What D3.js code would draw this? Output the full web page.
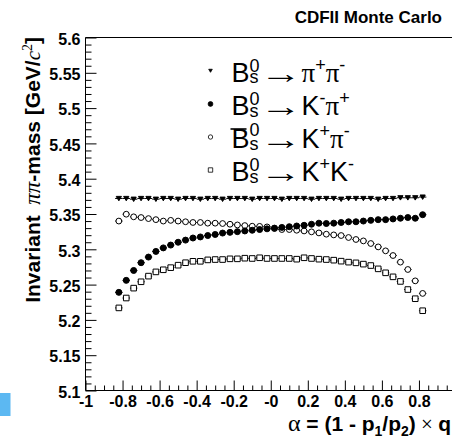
<!DOCTYPE html>
<html>
<head>
<meta charset="utf-8">
<script src="https://cdn.jsdelivr.net/npm/d3@7"></script>
<style>
  body { margin: 0; background: #fff; }
  svg { display: block; }
  text { fill: #000; }
</style>
</head>
<body>
<svg id="chart" width="452" height="440"></svg>
<script>
// Bin centres of alpha = (1 - p1/p2) x q
const alphaBins = [-0.82, -0.78, -0.74, -0.70, -0.66, -0.62, -0.58, -0.54, -0.50, -0.46,
                   -0.42, -0.38, -0.34, -0.30, -0.26, -0.22, -0.18, -0.14, -0.10, -0.06,
                   -0.02, 0.02, 0.06, 0.10, 0.14, 0.18, 0.22, 0.26, 0.30, 0.34,
                   0.38, 0.42, 0.46, 0.50, 0.54, 0.58, 0.62, 0.66, 0.70, 0.74,
                   0.78, 0.82];

// Mean pi-pi invariant mass [GeV/c^2] per bin, one array per decay mode
const massPiPi = [5.372, 5.372, 5.371, 5.372, 5.372, 5.371, 5.372, 5.372, 5.371, 5.372,
                  5.372, 5.371, 5.372, 5.372, 5.371, 5.372, 5.372, 5.372, 5.371, 5.372,
                  5.372, 5.372, 5.371, 5.372, 5.372, 5.372, 5.371, 5.372, 5.372, 5.372,
                  5.371, 5.372, 5.372, 5.372, 5.372, 5.371, 5.372, 5.372, 5.373, 5.373,
                  5.373, 5.374];
const massKPi    = [5.239, 5.256, 5.270, 5.281, 5.289, 5.297, 5.302, 5.306, 5.310, 5.313,
                    5.316, 5.3175, 5.3195, 5.321, 5.323, 5.324, 5.325, 5.326, 5.327, 5.328,
                    5.329, 5.330, 5.331, 5.332, 5.333, 5.334, 5.3355, 5.337, 5.3365, 5.337,
                    5.338, 5.339, 5.339, 5.340, 5.341, 5.342, 5.342, 5.343, 5.344, 5.345,
                    5.344, 5.349];
const massKPiBar = [5.340, 5.3497, 5.346, 5.345, 5.3435, 5.342, 5.340, 5.341, 5.340, 5.339,
                    5.338, 5.338, 5.337, 5.337, 5.3365, 5.3355, 5.3345, 5.3336, 5.3327, 5.3325,
                    5.3317, 5.3294, 5.328, 5.328, 5.327, 5.326, 5.3247, 5.3232, 5.3214, 5.3204,
                    5.3195, 5.3167, 5.3139, 5.3119, 5.3082, 5.3034, 5.2978, 5.2912, 5.2818, 5.2714,
                    5.2553, 5.2375];
const massKK     = [5.217, 5.231, 5.245, 5.254, 5.262, 5.268, 5.271, 5.274, 5.2775, 5.281,
                    5.283, 5.283, 5.285, 5.2855, 5.2855, 5.2865, 5.2865, 5.2874, 5.287, 5.288,
                    5.287, 5.287, 5.287, 5.287, 5.286, 5.288, 5.287, 5.286, 5.2855, 5.2846,
                    5.2832, 5.2818, 5.2808, 5.279, 5.277, 5.2723, 5.2667, 5.261, 5.2545, 5.243,
                    5.230, 5.213];

const binHalfWidth = 0.02;

// Axis ticks and labels
const yMajorTicks = [5.1, 5.15, 5.2, 5.25, 5.3, 5.35, 5.4, 5.45, 5.5, 5.55, 5.6];
const yTickLabels = ["5.1", "5.15", "5.2", "5.25", "5.3", "5.35", "5.4", "5.45", "5.5", "5.55", "5.6"];
const xMajorTicks = [-1, -0.8, -0.6, -0.4, -0.2, 0, 0.2, 0.4, 0.6, 0.8];
const xTickLabels = ["-1", "-0.8", "-0.6", "-0.4", "-0.2", "-0", "0.2", "0.4", "0.6", "0.8"];

const SANS = "'Liberation Sans', Arial, Helvetica, sans-serif";
const SERIF = "'Liberation Serif', 'Times New Roman', serif";

const svg = d3.select("#chart");

const x = d3.scaleLinear().domain([-1, 1]).range([85.5, 456]);
const y = d3.scaleLinear().domain([5.1, 5.6]).range([390.5, 37.5]);

// ---- frame ----
svg.append("path")
  .attr("d", `M456,${y(5.6)}H${x(-1)}V${y(5.1)}H456`)
  .attr("fill", "none").attr("stroke", "#000").attr("stroke-width", 1);

// ---- y axis (ticks point into the frame) ----
const yMinor = d3.range(5.1, 5.6001, 0.01).map(v => +v.toFixed(2))
  .filter(v => !yMajorTicks.some(t => Math.abs(t - v) < 1e-6));

const yAxisG = svg.append("g").attr("transform", `translate(${x(-1)},0)`)
  .call(d3.axisLeft(y).tickValues(yMajorTicks).tickSize(-11).tickPadding(5)
        .tickFormat((d, i) => yTickLabels[i]));
yAxisG.select(".domain").remove();
yAxisG.selectAll("text").attr("font-family", SANS).attr("font-weight", "bold")
  .attr("font-size", 16).attr("dy", "0.42em");
yAxisG.selectAll("line").attr("stroke", "#000");

const yMinorG = svg.append("g").attr("transform", `translate(${x(-1)},0)`)
  .call(d3.axisLeft(y).tickValues(yMinor).tickSize(-6).tickFormat(""));
yMinorG.select(".domain").remove();
yMinorG.selectAll("line").attr("stroke", "#000");

// ---- x axis ----
const xMinor = d3.range(-1, 1.0001, 0.05).map(v => +v.toFixed(2))
  .filter(v => !xMajorTicks.some(t => Math.abs(t - v) < 1e-6) && Math.abs(v - 1) > 1e-6);

const xAxisG = svg.append("g").attr("transform", `translate(0,${y(5.1)})`)
  .call(d3.axisBottom(x).tickValues(xMajorTicks).tickSize(-10).tickPadding(5)
        .tickFormat((d, i) => xTickLabels[i]));
xAxisG.select(".domain").remove();
xAxisG.selectAll("text").attr("font-family", SANS).attr("font-weight", "bold")
  .attr("font-size", 16).attr("dy", "0.72em");
xAxisG.selectAll("line").attr("stroke", "#000");

const xMinorG = svg.append("g").attr("transform", `translate(0,${y(5.1)})`)
  .call(d3.axisBottom(x).tickValues(xMinor).tickSize(-5).tickFormat(""));
xMinorG.select(".domain").remove();
xMinorG.selectAll("line").attr("stroke", "#000");

// ---- markers ----
function markerPath(kind, r) {
  if (kind === "triangle") {
    return `M${-r},${-r * 0.8}L${r},${-r * 0.8}L0,${r * 0.9}Z`;
  }
  if (kind === "square") {
    return `M${-r},${-r}H${r}V${r}H${-r}Z`;
  }
  return d3.symbol(d3.symbolCircle, Math.PI * r * r)();
}

const series = [
  { values: massPiPi,   kind: "triangle", filled: true,  r: 2.6 },
  { values: massKPi,    kind: "circle",   filled: true,  r: 3.0 },
  { values: massKPiBar, kind: "circle",   filled: false, r: 2.9 },
  { values: massKK,     kind: "square",   filled: false, r: 2.8 }
];

const plot = svg.append("g");
series.forEach(s => {
  const pts = alphaBins.map((a, i) => ({ a, v: s.values[i] }));
  const g = plot.append("g");
  // horizontal bin-width bars, stopping at the edge of the marker
  pts.forEach(p => {
    const cx = x(p.a), cy = y(p.v);
    const x0 = x(p.a - binHalfWidth), x1 = x(p.a + binHalfWidth);
    const gap = s.filled ? 0 : s.r;
    g.append("line").attr("x1", x0).attr("x2", cx - gap).attr("y1", cy).attr("y2", cy)
      .attr("stroke", "#000").attr("stroke-width", 1);
    g.append("line").attr("x1", cx + gap).attr("x2", x1).attr("y1", cy).attr("y2", cy)
      .attr("stroke", "#000").attr("stroke-width", 1);
  });
  g.selectAll("path.m").data(pts).join("path").attr("class", "m")
    .attr("transform", p => `translate(${x(p.a)},${y(p.v)})`)
    .attr("d", markerPath(s.kind, s.r))
    .attr("fill", s.filled ? "#000" : "none")
    .attr("stroke", "#000").attr("stroke-width", 1);
});

// ---- legend ----
const legend = svg.append("g");
const legendX = 231.5;
const legendMarkerX = 210.5;
const legendRows = [
  { base: 81.7, kind: "triangle", filled: true,  r: 1.8, bar: false,
    tail: [{ t: "π", serif: true }, { sup: "+" }, { t: "π", serif: true }, { sup: "-" }] },
  { base: 115,  kind: "circle",   filled: true,  r: 2.4, bar: false,
    tail: [{ t: "K" }, { sup: "-" }, { t: "π", serif: true }, { sup: "+" }] },
  { base: 148,  kind: "circle",   filled: false, r: 2.2, bar: true,
    tail: [{ t: "K" }, { sup: "+" }, { t: "π", serif: true }, { sup: "-" }] },
  { base: 181,  kind: "square",   filled: false, r: 2.2, bar: false,
    tail: [{ t: "K" }, { sup: "+" }, { t: "K" }, { sup: "-" }] }
];
const LF = 27, LS = 18;
const ARROW_STRETCH = 1.5;

legendRows.forEach(row => {
  legend.append("path")
    .attr("transform", `translate(${legendMarkerX},${row.base - 11})`)
    .attr("d", markerPath(row.kind, row.r))
    .attr("fill", row.filled ? "#000" : "none")
    .attr("stroke", "#000").attr("stroke-width", 0.8);

  // one text element per entry; pieces are tspans placed one after another
  const txt = legend.append("text").attr("font-family", SANS).attr("font-size", LF);
  let cx = legendX;
  const piece = (str, yy, opts = {}) => {
    const t = txt.append("tspan").attr("x", cx).attr("y", yy).text(str);
    if (opts.size) t.attr("font-size", opts.size);
    if (opts.family) t.attr("font-family", opts.family);
    const w = t.node().getComputedTextLength();
    if (opts.stretch) {
      t.attr("textLength", w * opts.stretch).attr("lengthAdjust", "spacingAndGlyphs");
      return w * opts.stretch;
    }
    return w;
  };

  const bx = cx;
  const bw = piece("B", row.base);
  if (row.bar) {
    legend.append("line").attr("x1", bx - 1).attr("x2", bx + bw - 3)
      .attr("y1", row.base - 19).attr("y2", row.base - 19)
      .attr("stroke", "#000").attr("stroke-width", 1.6);
  }
  cx += bw;
  const w0 = piece("0", row.bar ? row.base - 12 : row.base - 10, { size: LS });
  const ws = piece("s", row.base + 1.6, { size: LS });
  cx += Math.max(w0, ws);

  // decay arrow, stretched horizontally
  cx += piece("→", row.base + 1, { size: 28, family: SERIF, stretch: ARROW_STRETCH });

  // final-state particles
  row.tail.forEach(p => {
    if (p.sup) {
      cx += piece(p.sup, row.base - 11, { size: LS });
    } else {
      cx += piece(p.t, row.base, p.serif ? { family: SERIF } : {});
    }
  });
});

// ---- titles ----
svg.append("text").attr("x", 442).attr("y", 22.7).attr("text-anchor", "end")
  .attr("font-family", SANS).attr("font-weight", "bold").attr("font-size", 17)
  .text("CDFII Monte Carlo");

const yTitle = svg.append("text")
  .attr("transform", "translate(40,37) rotate(-90)")
  .attr("text-anchor", "end")
  .attr("font-family", SANS).attr("font-weight", "bold").attr("font-size", 21);
yTitle.append("tspan").text("Invariant\u2002");
yTitle.append("tspan").attr("font-family", SERIF).attr("font-style", "italic")
  .attr("font-weight", "normal").attr("font-size", 23).text("ππ");
yTitle.append("tspan").text("-mass [GeV/");
yTitle.append("tspan").attr("font-family", SERIF).attr("font-style", "italic")
  .attr("font-weight", "normal").text("c");
yTitle.append("tspan").attr("font-family", SERIF).attr("font-weight", "normal")
  .attr("font-size", 14).attr("dy", -8).text("2");
yTitle.append("tspan").attr("dy", 8).text("]");

const xTitle = svg.append("text").attr("x", 451).attr("y", 431)
  .attr("text-anchor", "end")
  .attr("font-family", SANS).attr("font-weight", "bold").attr("font-size", 21);
xTitle.append("tspan").attr("font-family", SERIF).attr("font-weight", "normal")
  .attr("font-size", 24).text("α");
xTitle.append("tspan").text(" = (1 - p");
xTitle.append("tspan").attr("font-size", 14).attr("dy", 5).text("1");
xTitle.append("tspan").attr("dy", -5).text("/p");
xTitle.append("tspan").attr("font-size", 14).attr("dy", 5).text("2");
xTitle.append("tspan").attr("dy", -5).text(")");
xTitle.append("tspan").attr("font-family", SERIF).attr("font-weight", "normal").text(" × ");
xTitle.append("tspan").text("q");

// ---- small blue tab at the lower left ----
svg.append("rect").attr("x", 0).attr("y", 393).attr("width", 10.5).attr("height", 23)
  .attr("fill", "#5cb8f2");
</script>
</body>
</html>
